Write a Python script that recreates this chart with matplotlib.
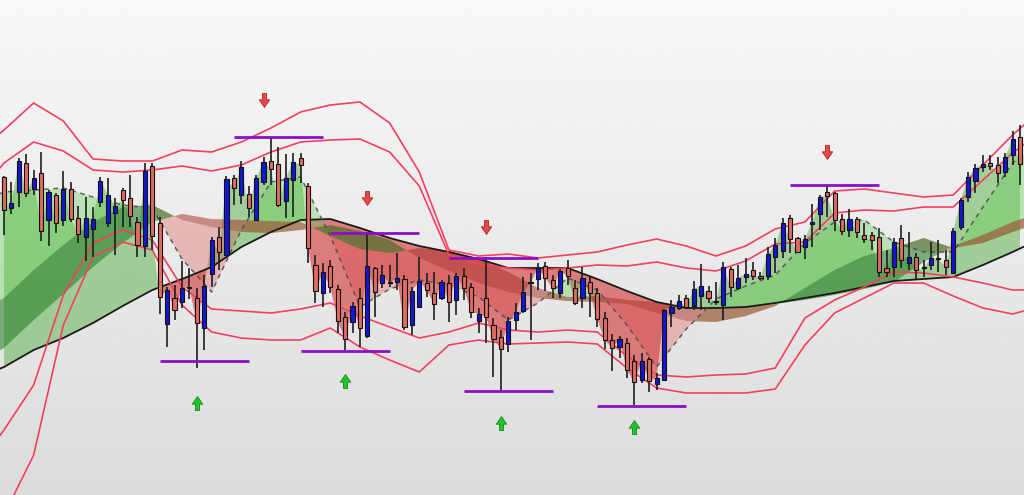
import numpy as np
import matplotlib
matplotlib.use("Agg")
import matplotlib.pyplot as plt
from matplotlib.path import Path

# candles, price in points
open_ = [318, 287, 303, 332, 306, 322, 275, 300, 275, 306, 277, 258, 266, 293, 272, 282, 305, 297, 273, 249,
         329, 272, 171, 197, 193, 207, 197, 167, 221, 258, 240, 317, 300, 301, 275, 313, 334, 331, 294, 315,
         337, 309, 230, 202, 229, 206, 178, 173, 197, 159, 227, 212, 212, 213, 216, 170, 188, 212, 202, 197,
         212, 195, 219, 208, 174, 197, 170, 158, 151, 175, 184, 212, 216, 229, 215, 202, 227, 207, 197, 213,
         202, 177, 155, 148, 152, 134, 115, 136, 111, 115, 182, 187, 197, 189, 199, 204, 193, 190, 226, 207,
         218, 225, 219, 219, 238, 244, 277, 257, 248, 271, 281, 303, 302, 276, 265, 276, 260, 260, 258, 227,
         228, 257, 232, 238, 227, 230, 236, 235, 222, 268, 298, 314, 328, 332, 330, 323, 340, 358]
high = [319, 313, 337, 341, 325, 343, 305, 302, 324, 313, 289, 298, 288, 318, 317, 297, 307, 320, 278, 332,
        332, 278, 208, 210, 234, 227, 207, 220, 258, 268, 319, 320, 334, 309, 320, 338, 357, 348, 341, 342,
        342, 312, 240, 232, 235, 210, 183, 193, 207, 262, 228, 230, 230, 242, 220, 208, 238, 222, 223, 215,
        220, 222, 227, 212, 187, 238, 177, 165, 178, 192, 218, 222, 232, 233, 220, 226, 235, 215, 228, 218,
        207, 183, 161, 159, 157, 140, 142, 138, 122, 186, 195, 200, 200, 214, 231, 209, 213, 233, 228, 230,
        237, 233, 223, 248, 257, 277, 280, 258, 260, 291, 300, 310, 303, 281, 286, 278, 272, 263, 267, 245,
        257, 270, 263, 242, 235, 253, 255, 245, 267, 297, 323, 331, 340, 340, 338, 342, 364, 370]
low = [260, 281, 288, 298, 300, 254, 249, 262, 269, 273, 252, 234, 238, 288, 268, 240, 268, 268, 238, 238,
       245, 181, 148, 175, 187, 196, 127, 145, 208, 225, 239, 290, 291, 278, 274, 310, 310, 288, 277, 278,
       312, 232, 192, 188, 202, 162, 145, 162, 148, 157, 178, 207, 208, 205, 165, 160, 188, 198, 175, 195,
       173, 180, 195, 177, 162, 152, 118, 105, 143, 165, 182, 155, 205, 204, 197, 197, 210, 190, 187, 178,
       168, 146, 124, 137, 117, 90, 112, 103, 105, 115, 168, 185, 186, 185, 185, 192, 190, 175, 198, 205,
       212, 215, 215, 215, 222, 237, 242, 242, 236, 248, 265, 278, 264, 260, 258, 257, 252, 245, 218, 218,
       218, 227, 225, 215, 218, 225, 223, 220, 222, 265, 293, 302, 323, 325, 312, 318, 330, 310]
close = [285, 292, 334, 302, 317, 264, 303, 272, 306, 276, 261, 277, 276, 314, 300, 289, 295, 279, 250, 324,
         259, 198, 205, 185, 207, 207, 172, 209, 255, 243, 316, 307, 328, 287, 317, 333, 326, 290, 317, 333,
         330, 247, 204, 223, 208, 174, 156, 189, 167, 229, 203, 220, 212, 217, 168, 204, 214, 205, 191, 213,
         193, 219, 207, 183, 181, 178, 156, 146, 174, 183, 203, 212, 227, 217, 207, 224, 219, 192, 217, 202,
         176, 155, 147, 156, 125, 113, 134, 114, 117, 185, 188, 194, 188, 206, 209, 197, 193, 228, 208, 217,
         221, 219, 217, 241, 250, 272, 256, 243, 256, 273, 298, 299, 275, 264, 276, 263, 256, 255, 223, 223,
         253, 235, 238, 225, 227, 237, 236, 228, 264, 295, 318, 327, 331, 329, 322, 338, 356, 331]

# indicator lines, read every 4 bars
line_idx = [-1, 0, 4, 8, 12, 16, 20, 24, 28, 32, 36, 40, 44, 48, 52, 56, 60, 64, 68, 72, 76, 80, 84, 88,
            92, 96, 100, 104, 108, 112, 116, 120, 124, 128, 132, 136, 138]
band_up_outer = [359, 365, 392, 374, 336, 334, 334, 345, 343, 353, 367, 383, 390, 393, 372, 323, 245, 239, 241,
                 237, 240, 243, 250, 256, 249, 239, 249, 266, 273, 304, 306, 302, 298, 300, 330, 360, 373]
band_up_inner = [323, 332, 353, 344, 325, 323, 325, 329, 324, 330, 343, 353, 355, 356, 343, 309, 240, 231, 227,
                 225, 227, 230, 229, 233, 227, 224, 234, 251, 253, 282, 285, 284, 288, 288, 315, 342, 353]
band_lo_inner = [55, 65, 110, 200, 252, 265, 255, 208, 186, 184, 182, 186, 192, 179, 168, 157, 163, 172, 165,
                 163, 165, 163, 139, 120, 118, 120, 121, 127, 177, 195, 208, 223, 222, 218, 212, 205, 205]
band_lo_outer = [-35, -20, 40, 170, 238, 253, 245, 190, 163, 157, 155, 155, 167, 148, 135, 123, 150, 155, 151,
                 152, 153, 151, 127, 107, 102, 102, 102, 106, 150, 182, 197, 212, 212, 199, 187, 181, 185]
slow_ma = [125, 128, 145, 157, 172, 189, 205, 216, 228, 248, 263, 275, 276, 267, 257, 249, 243, 236, 227, 227,
           227, 216, 204, 193, 187, 187, 188, 192, 197, 202, 208, 214, 216, 218, 230, 243, 250]
mid_ma = [300, 303, 305, 307, 298, 290, 287, 236, 203, 265, 313, 318, 259, 188, 206, 215, 210, 198, 175, 192,
          217, 205, 170, 128, 166, 196, 209, 220, 252, 273, 275, 253, 243, 243, 288, 332, 343]
ribbon_a = [193, 197, 225, 250, 273, 288, 290, 275, 268, 263, 262, 265, 270, 264, 255, 237, 224, 212, 203, 197,
            194, 193, 191, 182, 174, 173, 179, 189, 207, 225, 239, 247, 257, 247, 252, 263, 268]
ribbon_b = [143, 147, 175, 201, 228, 252, 273, 281, 276, 275, 274, 273, 259, 246, 242, 247, 244, 236, 223, 207,
            198, 199, 195, 193, 188, 187, 188, 191, 195, 200, 206, 213, 233, 249, 260, 273, 278]

# swing levels
level_price = [358, 134, 262, 144, 237, 104, 89, 310]
level_start = [31, 21, 44, 40, 60, 62, 80, 106]
level_end = [43, 33, 56, 52, 72, 74, 92, 118]
sell_idx = [35, 49, 65, 111]
sell_price = [395, 297, 268, 343]
buy_idx = [26, 46, 67, 85]
buy_price = [92, 114, 72, 68]


def arrow_marker(up):
    pts = [(-0.3, -1), (0.3, -1), (0.3, -0.1), (0.75, -0.1), (0, 1), (-0.75, -0.1), (-0.3, -0.1), (-0.3, -1)]
    if not up:
        pts = [(x, -y) for x, y in pts]
    codes = [Path.MOVETO] + [Path.LINETO] * (len(pts) - 2) + [Path.CLOSEPOLY]
    return Path(pts, codes)


def main():
    o = np.array(open_, float)
    h = np.array(high, float)
    l = np.array(low, float)
    c = np.array(close, float)
    idx = np.arange(len(c))
    xs = np.array(line_idx, float)
    slow = np.array(slow_ma, float)
    mid = np.array(mid_ma, float)
    ra = np.array(ribbon_a, float)
    rb = np.array(ribbon_b, float)

    fig = plt.figure(figsize=(10.24, 4.95), dpi=100)
    ax = fig.add_axes([0, 0, 1, 1])
    x0, x1 = -0.54, 137.54
    ax.set_xlim(x0, x1)
    ax.set_ylim(0, 495)
    ax.axis("off")

    # background gradient
    grad = np.linspace(0.86, 0.975, 256).reshape(-1, 1)
    ax.imshow(grad, cmap="gray", vmin=0, vmax=1, aspect="auto",
              extent=[x0, x1, 0, 495], origin="lower", zorder=0)

    # close vs slow ma
    slow_c = np.interp(idx, xs, slow)
    ax.fill_between(idx, c, slow_c, where=c >= slow_c, interpolate=True,
                    color="#58b048", alpha=0.5, lw=0, zorder=1)
    ax.fill_between(idx, c, slow_c, where=c < slow_c, interpolate=True,
                    color="#d43a3a", alpha=0.62, lw=0, zorder=1)
    # mid ma vs ribbon
    ax.fill_between(xs, mid, ra, where=mid >= ra, interpolate=True,
                    color="#5cd04a", alpha=0.35, lw=0, zorder=2)
    ax.fill_between(xs, mid, ra, where=mid < ra, interpolate=True,
                    color="#d94040", alpha=0.3, lw=0, zorder=2)
    # ribbon band
    ax.fill_between(xs, ra, rb, where=ra >= rb, interpolate=True,
                    color="#1f7a1f", alpha=0.55, lw=0, zorder=3)
    ax.fill_between(xs, ra, rb, where=ra < rb, interpolate=True,
                    color="#a82a20", alpha=0.5, lw=0, zorder=3)

    ax.plot(xs, slow, color="#1a1a1a", lw=1.3, zorder=4)
    ax.plot(xs, mid, color="#4a4a4a", lw=1.1, ls=(0, (3, 3)), alpha=0.85, zorder=4)

    for band in (band_up_outer, band_up_inner, band_lo_inner, band_lo_outer):
        ax.plot(xs, band, color="#f5405e", lw=1.2, zorder=5)

    # candles
    ax.vlines(idx, l, h, color="#1e1e1e", lw=1.2, zorder=6)
    body_lo = np.minimum(o, c)
    body_h = np.abs(c - o)
    colors = np.where(c > o, "#1515d6", "#e26a5e")
    colors = np.where(body_h == 0, "#111111", colors)
    body_h = np.where(body_h == 0, 1.5, body_h)
    ax.bar(idx, body_h, bottom=body_lo, width=0.56, color=colors,
           edgecolor="#111111", linewidth=0.8, zorder=7)

    ax.hlines(level_price, level_start, level_end, color="#8a10c8", lw=2, zorder=8)

    ax.plot(sell_idx, sell_price, ls="none", marker=arrow_marker(False), markersize=10,
            markerfacecolor="#e44a4a", markeredgecolor="#b02828", markeredgewidth=0.6, zorder=9)
    ax.plot(buy_idx, buy_price, ls="none", marker=arrow_marker(True), markersize=10,
            markerfacecolor="#22c42a", markeredgecolor="#138a18", markeredgewidth=0.6, zorder=9)

    fig.savefig("out.png", dpi=100)
    plt.close(fig)


if __name__ == "__main__":
    main()
